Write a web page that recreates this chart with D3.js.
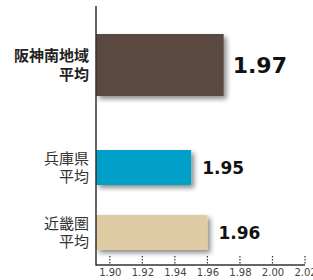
<!doctype html>
<html>
<head>
<meta charset="UTF-8">
<script src="https://d3js.org/d3.v7.min.js"></script>
<style>
  body { margin: 0; background: #fff; }
  svg { display: block; }
</style>
</head>
<body>
<svg id="chart"></svg>
<script>
// data
var categories = ["阪神南地域\n平均", "兵庫県\n平均", "近畿圏\n平均"];
var values = [1.97, 1.95, 1.96];
var valueLabels = ["1.97", "1.95", "1.96"];
var tickValues = [1.90, 1.92, 1.94, 1.96, 1.98, 2.00, 2.02];
var colors = ["#5a4840", "#00a0c8", "#dfcca4"];

var w = 313, h = 280;
var svg = d3.select("#chart").attr("width", w).attr("height", h);

var x = d3.scaleLinear().domain([1.8915, 2.02]).range([96, 305]);
var yCenter = d3.scaleOrdinal().domain(categories).range([65, 167.5, 232.5]);
var thick = d3.scaleOrdinal().domain(categories).range([62, 35, 35]);
var labelSize = d3.scaleOrdinal().domain(categories).range([22, 17, 17]);

// shadow
var defs = svg.append("defs");
var f = defs.append("filter").attr("id", "shadow")
    .attr("x", "-10%").attr("y", "-20%").attr("width", "130%").attr("height", "160%");
f.append("feGaussianBlur").attr("in", "SourceAlpha").attr("stdDeviation", 2.5).attr("result", "b");
f.append("feOffset").attr("in", "b").attr("dx", 3).attr("dy", 3).attr("result", "o");
f.append("feComponentTransfer").attr("in", "o").attr("result", "o2")
  .append("feFuncA").attr("type", "linear").attr("slope", 0.45);
var m = f.append("feMerge");
m.append("feMergeNode").attr("in", "o2");
m.append("feMergeNode").attr("in", "SourceGraphic");

// bars
svg.selectAll("rect.bar").data(categories).enter().append("rect")
  .attr("class", "bar")
  .attr("x", x(x.domain()[0]))
  .attr("y", function(d) { return yCenter(d) - thick(d) / 2; })
  .attr("width", function(d, i) { return x(values[i]) - x(x.domain()[0]); })
  .attr("height", function(d) { return thick(d); })
  .attr("fill", function(d, i) { return colors[i]; })
  .attr("filter", "url(#shadow)");

// value labels
svg.selectAll("text.val").data(categories).enter().append("text")
  .attr("class", "val")
  .attr("x", function(d, i) { return x(values[i]) + (i == 0 ? 9 : 11); })
  .attr("y", function(d) { return yCenter(d); })
  .attr("dy", "0.36em")
  .attr("font-family", "DejaVu Sans")
  .attr("font-weight", "bold")
  .attr("font-size", function(d) { return labelSize(d); })
  .attr("fill", "#111")
  .text(function(d, i) { return valueLabels[i]; });

// category labels
svg.selectAll("text.cat").data(categories).enter().append("text")
  .attr("class", "cat")
  .attr("text-anchor", "end")
  .attr("font-family", "Noto Sans CJK JP")
  .attr("font-size", 15)
  .attr("font-weight", function(d, i) { return i == 0 ? "bold" : "normal"; })
  .attr("fill", function(d, i) { return i == 0 ? "#222" : "#333"; })
  .each(function(d) {
    var lines = d.split("\n");
    var t = d3.select(this);
    lines.forEach(function(l, j) {
      t.append("tspan")
        .attr("x", 89)
        .attr("y", yCenter(d) + (j - 0.5) * 18.5)
        .attr("dy", "0.36em")
        .text(l);
    });
  });

// x axis
var axis = d3.axisBottom(x).tickValues(tickValues).tickFormat(d3.format(".2f")).tickSize(0).tickPadding(4);
var g = svg.append("g").attr("transform", "translate(0,265)").call(axis);
g.select(".domain").remove();
g.selectAll("text").attr("font-family", "DejaVu Sans").attr("font-size", 10).attr("fill", "#444");

// dotted tick marks
svg.selectAll("line.tk").data(tickValues).enter().append("line")
  .attr("class", "tk")
  .attr("x1", function(d) { return x(d); })
  .attr("x2", function(d) { return x(d); })
  .attr("y1", 256).attr("y2", 265)
  .attr("stroke", "#333").attr("stroke-width", 1.2)
  .attr("stroke-dasharray", "1.5,1.5");

// axis lines
svg.append("line").attr("x1", 96).attr("x2", 305).attr("y1", 265).attr("y2", 265)
  .attr("stroke", "#333").attr("stroke-width", 1.5);
svg.append("line").attr("x1", 96).attr("x2", 96).attr("y1", 6).attr("y2", 265.75)
  .attr("stroke", "#333").attr("stroke-width", 1.5);
</script>
</body>
</html>
